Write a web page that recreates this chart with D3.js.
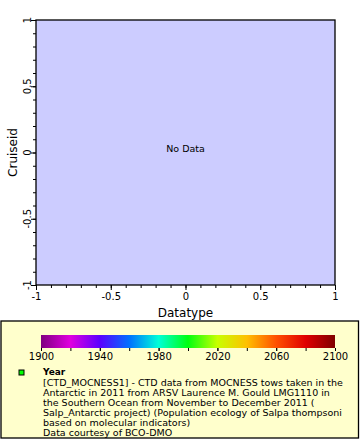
<!DOCTYPE html>
<html><head><meta charset="utf-8">
<script src="https://cdn.jsdelivr.net/npm/d3@7"></script>
<style>
html,body{margin:0;padding:0;background:#fff;}
svg{display:block;font-family:"DejaVu Sans",sans-serif;}
</style></head>
<body>
<svg id="chart" width="360" height="440"></svg>
<script>
// Data (empty: "No Data")
const datatype = [];
const cruiseid = [];
const year = [];
const xDomain = [-1, 1];
const yDomain = [-1, 1];
const xTickLabels = [-1, -0.5, 0, 0.5, 1];
const yTickLabels = [-1, -0.5, 0, 0.5, 1];
const cbDomain = [1900, 2100];
const cbTickLabels = [1900, 1940, 1980, 2020, 2060, 2100];
const cbStopYears = [1900, 1920, 1940, 1960, 1980, 2000, 2020, 2040, 2060, 2080, 2100];
const cbStopColors = ["#800080","#e000e0","#5a00ff","#0070ff","#00ffd8","#00ff10","#c8ff00","#ffc000","#ff5000","#e00000","#800000"];
const legendTitle = "Year";
const legendLines = [
  "[CTD_MOCNESS1] - CTD data from MOCNESS tows taken in the",
  "Antarctic in 2011 from ARSV Laurence M. Gould LMG1110 in",
  "the Southern Ocean from November to December 2011 (",
  "Salp_Antarctic project) (Population ecology of Salpa thompsoni",
  "based on molecular indicators)",
  "Data courtesy of BCO-DMO"
];

const svg = d3.select("#chart");
const L = 36, R = 335, T = 20, B = 285;
const x = d3.scaleLinear().domain(xDomain).range([L, R]);
const y = d3.scaleLinear().domain(yDomain).range([B, T]);

svg.append("rect").attr("x", L).attr("y", T).attr("width", R - L).attr("height", B - T)
  .attr("fill", "#ccccff");

// points (none)
svg.append("g").selectAll("circle").data(datatype).join("circle")
  .attr("cx", (d, i) => x(d)).attr("cy", (d, i) => y(cruiseid[i])).attr("r", 2);

// frame
svg.append("rect").attr("x", L).attr("y", T).attr("width", R - L).attr("height", B - T)
  .attr("fill", "none").attr("stroke", "#000").attr("stroke-width", 1.3);

const fmt = d => d3.format("")(d).replace("\u2212", "-");

// x axis
const xMinor = d3.range(-1, 1.0001, 0.1);
const gx = svg.append("g").attr("transform", `translate(0,${B})`);
gx.append("g").call(d3.axisBottom(x).tickValues(xMinor).tickSize(3).tickFormat(""))
  .call(g => g.select(".domain").remove());
gx.append("g").call(d3.axisBottom(x).tickValues(xTickLabels).tickSize(5).tickPadding(3).tickFormat(fmt))
  .call(g => g.select(".domain").remove())
  .call(g => g.selectAll("text").attr("font-size", 10).attr("font-family", "DejaVu Sans").attr("fill", "#000"));
gx.selectAll("line").attr("stroke", "#000");

// y axis
const yMinor = d3.range(-1, 1.0001, 0.1);
const gy = svg.append("g").attr("transform", `translate(${L},0)`);
gy.append("g").call(d3.axisLeft(y).tickValues(yMinor).tickSize(3).tickFormat(""))
  .call(g => g.select(".domain").remove());
gy.append("g").call(d3.axisLeft(y).tickValues(yTickLabels).tickSize(5).tickFormat(""))
  .call(g => g.select(".domain").remove());
gy.selectAll("line").attr("stroke", "#000");
gy.append("g").selectAll("text").data(yTickLabels).join("text")
  .attr("transform", d => `translate(${-5},${y(d)}) rotate(-90)`)
  .attr("text-anchor", "middle").attr("font-size", 10).attr("fill", "#000")
  .text(fmt);

// axis titles
svg.append("text").attr("x", (L + R) / 2).attr("y", 317).attr("text-anchor", "middle")
  .attr("font-size", 12).text("Datatype");
svg.append("text").attr("transform", `translate(17,${(T + B) / 2}) rotate(-90)`)
  .attr("text-anchor", "middle").attr("font-size", 12).text("Cruiseid");

// No Data
svg.append("text").attr("x", (L + R) / 2).attr("y", 152).attr("text-anchor", "middle")
  .attr("font-size", 9.5).text("No Data");

// legend box
svg.append("rect").attr("x", 1).attr("y", 321).attr("width", 357.5).attr("height", 117)
  .attr("fill", "#ffffcc").attr("stroke", "#000").attr("stroke-width", 1.3);

// colorbar
const cx = d3.scaleLinear().domain(cbDomain).range([41, 335]);
const defs = svg.append("defs");
const grad = defs.append("linearGradient").attr("id", "cb").attr("x1", "0%").attr("x2", "100%");
grad.selectAll("stop").data(cbStopYears).join("stop")
  .attr("offset", d => (d - cbDomain[0]) / (cbDomain[1] - cbDomain[0]))
  .attr("stop-color", (d, i) => cbStopColors[i]);
svg.append("rect").attr("x", cx(cbDomain[0])).attr("y", 335).attr("width", cx(cbDomain[1]) - cx(cbDomain[0]))
  .attr("height", 13).attr("fill", "url(#cb)");
const gcb = svg.append("g").attr("transform", "translate(0,348)");
gcb.append("g").call(d3.axisBottom(cx).tickValues(d3.range(1900, 2101, 20)).tickSize(3).tickFormat(""))
  .call(g => g.select(".domain").remove());
gcb.append("g").call(d3.axisBottom(cx).tickValues(cbTickLabels).tickSize(3).tickPadding(2).tickFormat(d3.format("d")))
  .call(g => g.select(".domain").remove())
  .call(g => g.selectAll("text").attr("font-size", 10).attr("font-family", "DejaVu Sans").attr("fill", "#000"));
gcb.selectAll("line").attr("stroke", "#000");

// legend marker + text
svg.append("rect").attr("x", 19).attr("y", 370).attr("width", 5).attr("height", 5)
  .attr("fill", "#00ff00").attr("stroke", "#000").attr("stroke-width", 1);
svg.append("text").attr("x", 43).attr("y", 374.5).attr("font-size", 9).attr("font-weight", "bold").text(legendTitle);
svg.append("g").selectAll("text").data(legendLines).join("text")
  .attr("x", 43).attr("y", (d, i) => 385.5 + i * 10).attr("font-size", 9.5)
  .attr("font-family", "DejaVu Sans").text(d => d);
</script>
</body></html>
